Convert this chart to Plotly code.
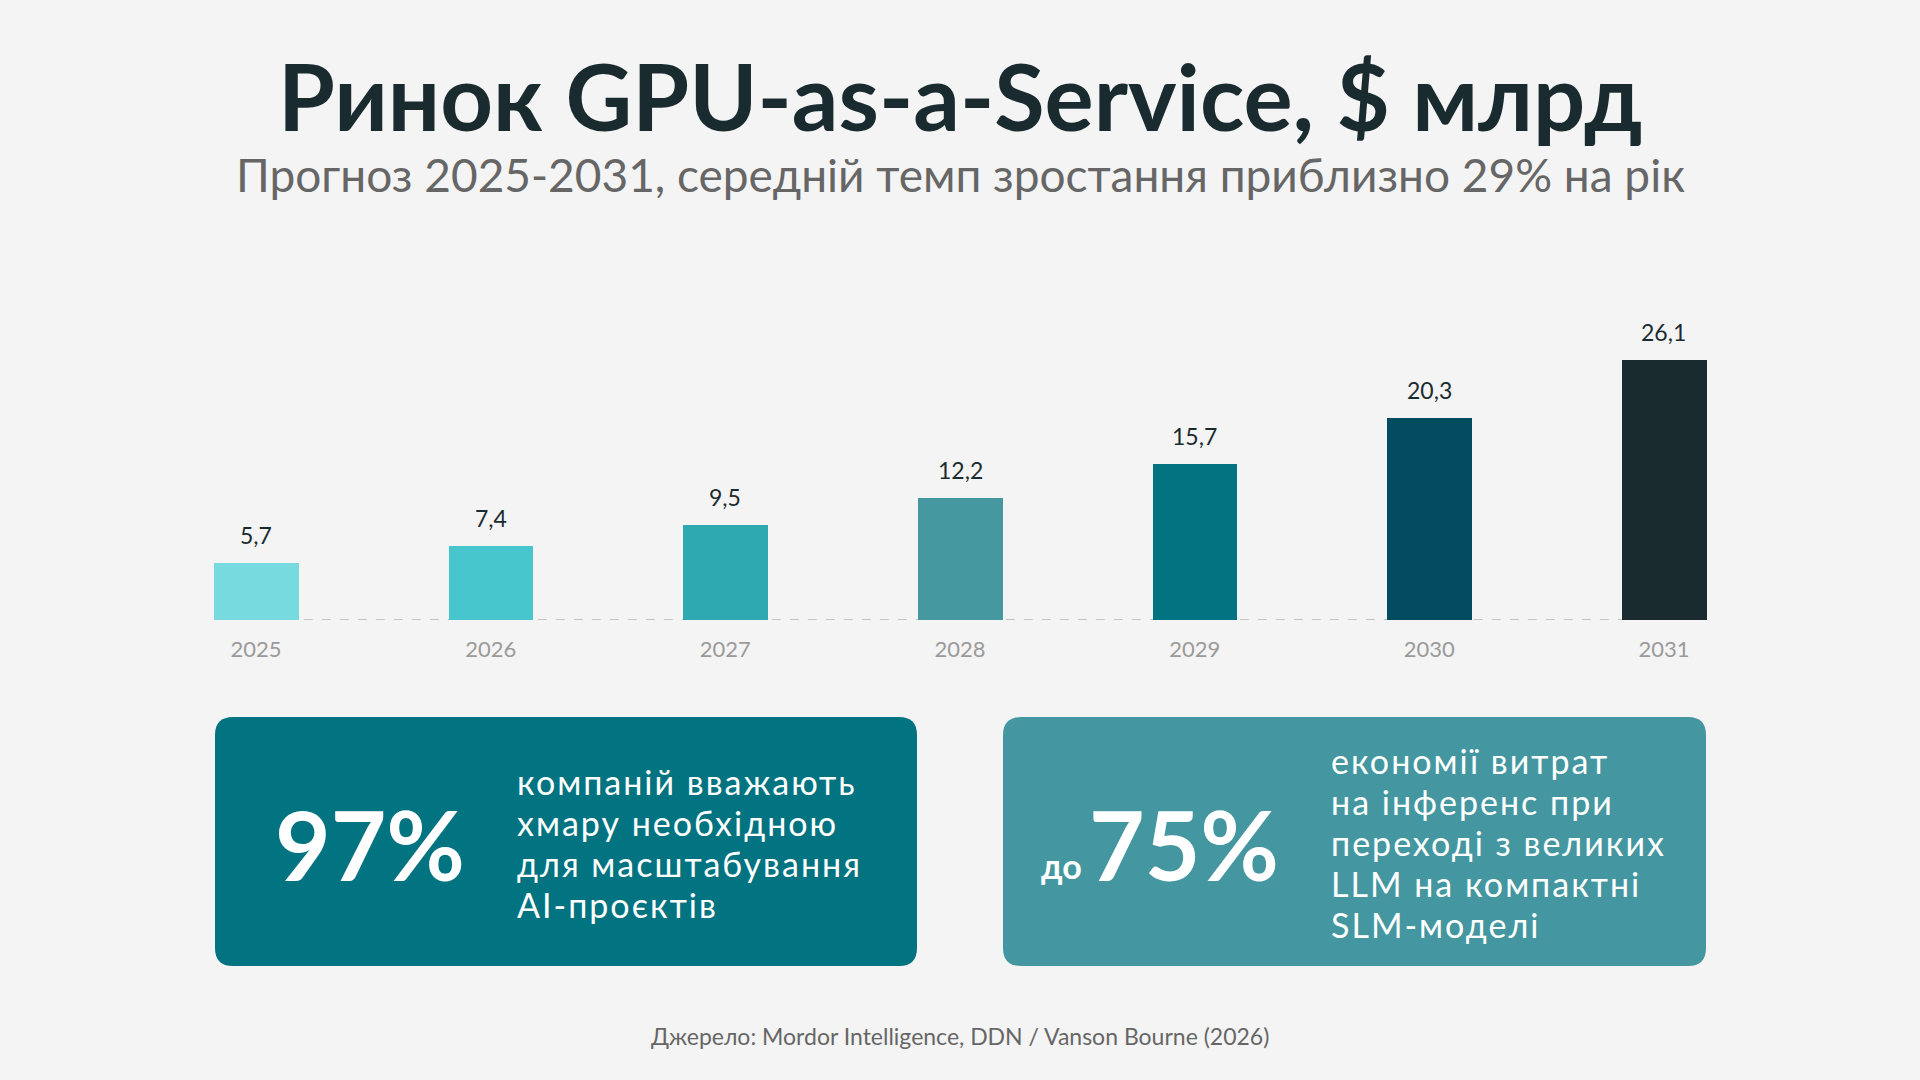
import plotly.graph_objects as go

# data
years = ["2025", "2026", "2027", "2028", "2029", "2030", "2031"]
market_size = [5.7, 7.4, 9.5, 12.2, 15.7, 20.3, 26.1]
bar_colors = ["#76DADF", "#48C6CD", "#2EA8B1", "#4597A0", "#027380", "#034C5F", "#1A2B30"]

title_text = "Ринок GPU-as-a-Service, $ млрд"
subtitle_text = "Прогноз 2025-2031, середній темп зростання приблизно 29% на рік"
source_text = "Джерело: Mordor Intelligence, DDN / Vanson Bourne (2026)"

card1_value = "97%"
card1_lines = ["компаній вважають", "хмару необхідною", "для масштабування", "AI-проєктів"]
card2_prefix = "до"
card2_value = "75%"
card2_lines = ["економії витрат", "на інференс при", "переході з великих", "LLM на компактні", "SLM-моделі"]

W, H = 1920, 1080
BG = "#F4F4F4"
DARK = "#1A2B30"
FONT = "Lato"


def px(x):
    return x / W


def py(y):
    return 1 - y / H


def rounded_rect(x0, y0, x1, y1, r):
    # path in paper coords, corners drawn with quadratic curves
    rx, ry = r / W, r / H
    a, b, c, d = px(x0), py(y1), px(x1), py(y0)  # left, bottom, right, top
    return (f"M{a + rx},{d} L{c - rx},{d} Q{c},{d} {c},{d - ry} "
            f"L{c},{b + ry} Q{c},{b} {c - rx},{b} L{a + rx},{b} "
            f"Q{a},{b} {a},{b + ry} L{a},{d - ry} Q{a},{d} {a + rx},{d} Z")


def card_body(lines):
    # base font sets the line spacing (1.3 x 31.5px); spans give the glyph size and tracking
    return "<br>".join(f'<span style="font-size:34px;letter-spacing:2px">{t}</span>' for t in lines)


fig = go.Figure()

fig.add_trace(go.Bar(
    x=years, y=market_size, marker=dict(color=bar_colors, line=dict(width=0)),
    width=0.36, hoverinfo="skip", showlegend=False,
))

# value labels above bars (category index used for x)
for i, v in enumerate(market_size):
    fig.add_annotation(
        x=i, y=v, xref="x", yref="y", text=f"{v:.1f}".replace(".", ","),
        showarrow=False, yshift=28, font=dict(family=FONT, size=23, color=DARK),
    )

# dashed baseline under the bars
fig.add_shape(type="line", xref="x", yref="y", x0=-0.18, x1=6.18, y0=0, y1=0,
              line=dict(color="#C4C4C4", width=2, dash="dash"), layer="below")

fig.add_shape(type="path", xref="paper", yref="paper", path=rounded_rect(215, 717, 917, 966, 18),
              fillcolor="#027380", line=dict(width=0), layer="below")
fig.add_shape(type="path", xref="paper", yref="paper", path=rounded_rect(1003, 717, 1706, 966, 18),
              fillcolor="#4497A0", line=dict(width=0), layer="below")

annotations = [
    dict(x=px(960), y=py(95), text=title_text,
         font=dict(family=FONT, size=92, color=DARK, weight=700)),
    dict(x=px(960), y=py(175), text=subtitle_text,
         font=dict(family=FONT, size=46, color="#666666")),
    dict(x=px(370), y=py(843), text=card1_value,
         font=dict(family=FONT, size=96, color="white", weight=700)),
    dict(x=px(1061), y=py(865), text=card2_prefix,
         font=dict(family=FONT, size=34, color="white", weight=700)),
    dict(x=px(1184), y=py(843), text=card2_value,
         font=dict(family=FONT, size=96, color="white", weight=700)),
    dict(x=px(515), y=py(842.5), text=card_body(card1_lines), xanchor="left", align="left",
         font=dict(family=FONT, size=31.5, color="white")),
    dict(x=px(1329), y=py(842.5), text=card_body(card2_lines), xanchor="left", align="left",
         font=dict(family=FONT, size=31.5, color="white")),
    dict(x=px(960), y=py(1036), text=source_text,
         font=dict(family=FONT, size=23, color="#666666")),
]

for a in annotations:
    a.setdefault("xanchor", "center")
    fig.add_annotation(xref="paper", yref="paper", yanchor="middle", showarrow=False, **a)

fig.update_xaxes(
    type="category", domain=[px(138.7), px(1781.3)], range=[-0.5, 6.5], showgrid=False,
    zeroline=False, showline=False, ticks="", ticklabelstandoff=14,
    tickfont=dict(family=FONT, size=22, color="#9A9A9A"), fixedrange=True,
)
fig.update_yaxes(
    domain=[py(620), py(200)], range=[0, 420 / 9.96], visible=False, fixedrange=True,
)

fig.update_layout(
    width=W, height=H, margin=dict(l=0, r=0, t=0, b=0),
    paper_bgcolor=BG, plot_bgcolor=BG, bargap=0, showlegend=False,
    font=dict(family=FONT),
)

fig.write_html("out.html", config={"displayModeBar": False},
               post_script="document.body.style.margin='0';")
